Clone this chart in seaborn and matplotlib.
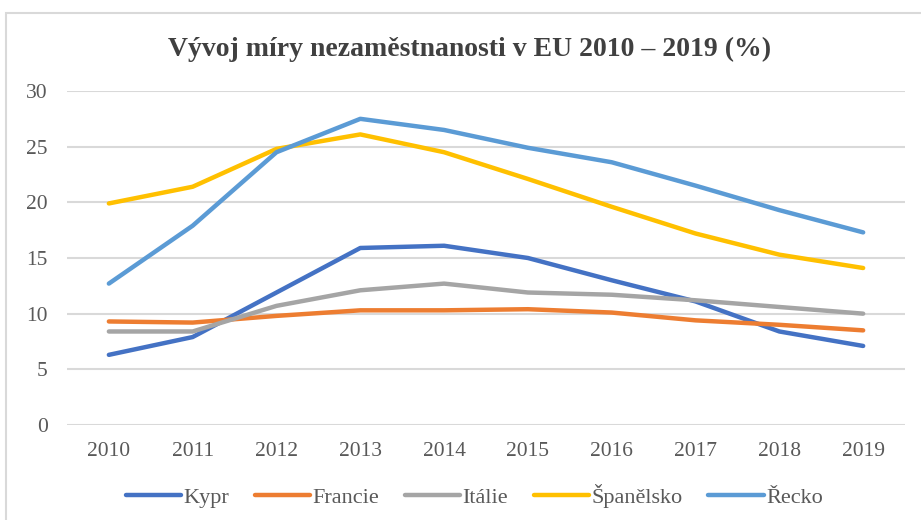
import pandas as pd
import matplotlib
matplotlib.use("Agg")
import matplotlib.pyplot as plt
import seaborn as sns
from matplotlib.patches import Rectangle

# hodnoty (%)
years = [2010, 2011, 2012, 2013, 2014, 2015, 2016, 2017, 2018, 2019]
kypr = [6.3, 7.9, 11.9, 15.9, 16.1, 15.0, 13.0, 11.1, 8.4, 7.1]
francie = [9.3, 9.2, 9.8, 10.3, 10.3, 10.4, 10.1, 9.4, 9.0, 8.5]
italie = [8.4, 8.4, 10.7, 12.1, 12.7, 11.9, 11.7, 11.2, 10.6, 10.0]
spanelsko = [19.9, 21.4, 24.8, 26.1, 24.5, 22.1, 19.6, 17.2, 15.3, 14.1]
recko = [12.7, 17.9, 24.5, 27.5, 26.5, 24.9, 23.6, 21.5, 19.3, 17.3]

countries = ["Kypr", "Francie", "Itálie", "Španělsko", "Řecko"]
colors = ["#4472C4", "#ED7D31", "#A5A5A5", "#FFC000", "#5B9BD5"]

df = pd.DataFrame({"Rok": years, "Kypr": kypr, "Francie": francie,
                   "Itálie": italie, "Španělsko": spanelsko, "Řecko": recko})
long = df.melt(id_vars="Rok", var_name="Země", value_name="Míra")

sns.set_theme(style="white")
plt.rcParams["font.family"] = ["Liberation Serif", "DejaVu Serif"]

fig = plt.figure(figsize=(9.21, 5.20), dpi=100)
ax = fig.add_axes([0.0727, 0.1827, 0.910, 0.6423])

sns.lineplot(data=long, x="Rok", y="Míra", hue="Země", hue_order=countries,
             palette=colors, linewidth=3.2, ax=ax, solid_capstyle="round")

ax.set_xlim(2009.5, 2019.5)
ax.set_ylim(0, 30)
ax.set_yticks(range(0, 31, 5))
ax.set_xticks(years)
ax.set_xticklabels([str(y) for y in years])
ax.grid(axis="y", color="#D9D9D9", linewidth=1.5)
ax.set_axisbelow(True)
for s in ax.spines.values():
    s.set_visible(False)
ax.set_xlabel("")
ax.set_ylabel("")
ax.tick_params(axis="both", length=0, labelsize=15.5, colors="#595959")
ax.tick_params(axis="y", pad=14)
ax.tick_params(axis="x", pad=12)

fig.text(0.51, 0.905, "Vývoj míry nezaměstnanosti v EU 2010 – 2019 (%)",
         ha="center", va="center", fontsize=20, fontweight="bold", color="#404040")

handles, labels = ax.get_legend_handles_labels()
ax.legend(handles, labels, loc="center", bbox_to_anchor=(0.515, 0.046),
          bbox_transform=fig.transFigure, ncol=5, frameon=False, fontsize=16,
          handlelength=2.5, handletextpad=0.1, columnspacing=1.15,
          labelcolor="#595959")

# rámeček grafu
fig.patches.append(Rectangle((6 / 921, -0.1), 1.2, 0.975 + 0.1, transform=fig.transFigure,
                             fill=False, edgecolor="#D9D9D9", linewidth=1.5))

fig.savefig("out.png", dpi=100)
